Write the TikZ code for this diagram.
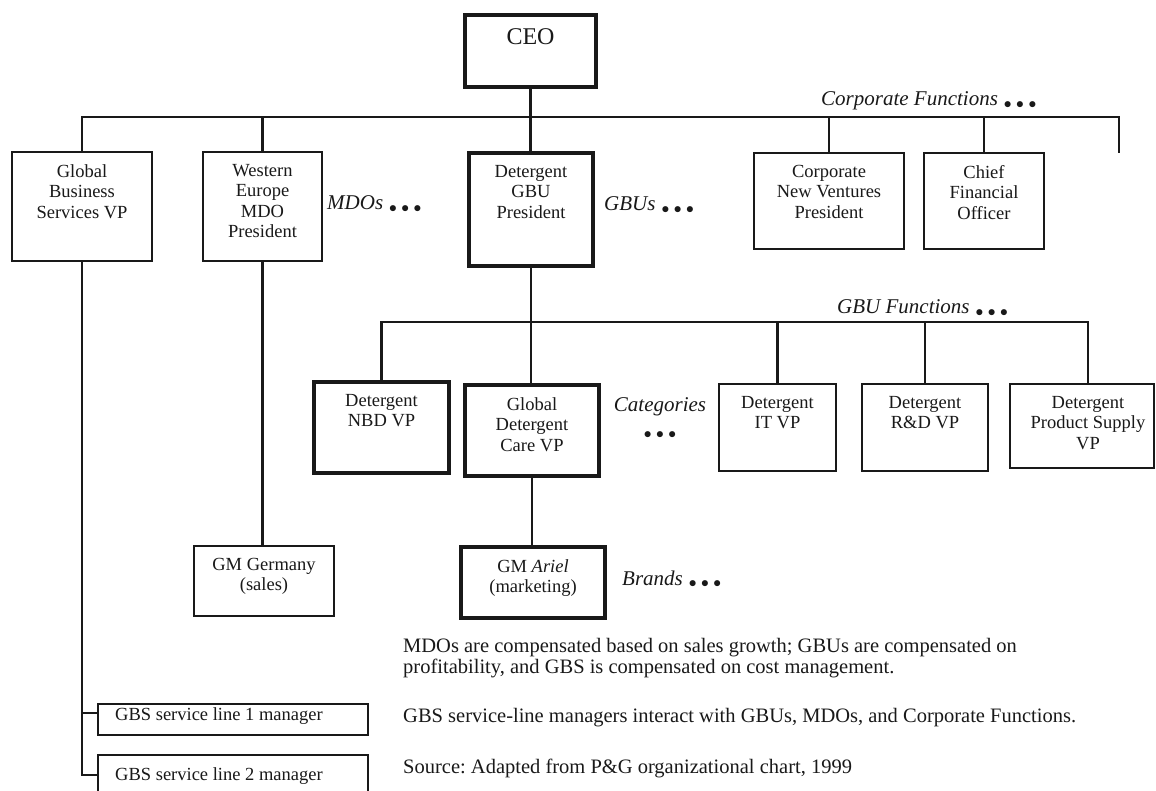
\documentclass[tikz,border=0pt]{standalone}
\usepackage{fontspec}
\setmainfont{Liberation Serif}
\usetikzlibrary{calc}
\frenchspacing

\definecolor{ink}{gray}{0.1}

\newcommand\boxfont{\fontsize{18.5}{20.5}\selectfont}
\newcommand\tagfont{\fontsize{21}{22}\selectfont\itshape}
\newcommand\ceofont{\fontsize{24}{26}\selectfont}
\newcommand\notefont{\fontsize{20.5}{21}\selectfont}
% three round dots that follow the open-ended group labels
\newcommand\dotrow{\raisebox{-2.5pt}{\scalebox{0.75}{$\mathord{\bullet}\kern6pt\mathord{\bullet}\kern6pt\mathord{\bullet}$}}}
\newcommand\more{\hspace{6pt}\dotrow}

\tikzset{
  org/.style={draw=ink, line width=2pt, fill=white, inner sep=0pt, anchor=north west},
  orgthick/.style={org, line width=4pt},
  boxtext/.style={anchor=north, align=center, inner sep=0pt, font=\boxfont, text=ink},
  wire/.style={draw=ink, line width=2.1pt},
  tag/.style={anchor=base west, inner sep=0pt, font=\tagfont, text=ink},
  note/.style={anchor=base west, inner sep=0pt, font=\notefont, text=ink},
}

% #1 name, #2 style, #3/#4 top-left corner, #5/#6 bottom-right corner, #7 text, #8 text drop from the top edge
\newcommand\orgbox[8]{%
  \node[#2, minimum width={(#5-#3)*1pt}, minimum height={(#6-#4)*1pt}] (#1) at (#3,#4) {};
  \node[boxtext] (#1-t) at ([yshift=-#8pt]#1.north) {#7};
}

\begin{document}
\begin{tikzpicture}[x=1pt, y=-1pt]
  \useasboundingbox (0,0) rectangle (1156,791);
  \clip (0,0) rectangle (1156,791);
  \fill[white] (0,0) rectangle (1156,791);

  % bus lines
  \coordinate (bus) at (0,117);
  \coordinate (stub) at (1119,117);
  \coordinate (stubend) at (1119,153);
  \coordinate (gbus) at (0,322);
  \coordinate (psdrop) at (1088,322);

  % top level
  \orgbox{ceo}{orgthick}{463}{13}{594}{85}{\ceofont CEO}{15}
  \orgbox{gbs}{org}{11}{151}{151}{260}{Global\\Business\\Services VP}{13}
  \orgbox{we}{org}{202}{151}{321}{260}{Western\\Europe\\MDO\\President}{13}
  \orgbox{gbu}{orgthick}{467}{151}{591}{264}{Detergent\\GBU\\President}{14}
  \orgbox{cnv}{org}{753}{152}{903}{248}{Corporate\\New Ventures\\President}{13}
  \orgbox{cfo}{org}{923}{152}{1043}{248}{Chief\\Financial\\Officer}{13}

  % GBU level
  \orgbox{nbd}{orgthick}{312}{380}{447}{471}{Detergent\\NBD VP}{14}
  \orgbox{gdc}{orgthick}{463}{383}{597}{474}{Global\\Detergent\\Care VP}{14}
  \orgbox{it}{org}{718}{383}{835}{470}{Detergent\\IT VP}{13}
  \orgbox{rd}{org}{861}{383}{987}{470}{Detergent\\R\&D VP}{13}
  \node[org, minimum width=144pt, minimum height=84pt] (ps) at (1009,383) {};
  \node[boxtext] (ps-t) at ([yshift=-13pt]ps.north -| psdrop) {Detergent\\Product Supply\\VP};

  % country and brand level
  \orgbox{gmg}{org}{193}{545}{333}{615}{GM Germany\\(sales)}{13}
  \orgbox{gma}{orgthick}{459}{545}{603}{616}{GM \textit{Ariel}\\(marketing)}{14}

  % GBS service lines
  \node[org, minimum width=270pt, minimum height=31pt] (sl1) at (97,703) {};
  \node[anchor=base west, inner sep=0pt, font=\boxfont, text=ink] (sl1-t) at ($(sl1.north west)+(18,17)$) {GBS service line 1 manager};
  \node[org, minimum width=270pt, minimum height=60pt] (sl2) at (97,754) {};
  \node[anchor=base west, inner sep=0pt, font=\boxfont, text=ink] (sl2-t) at ($(sl2.north west)+(18,26)$) {GBS service line 2 manager};

  % connectors
  \draw[wire] (ceo.south) -- (ceo.south |- gbu.north);
  \draw[wire] (gbs.north) |- (stub) -- (stubend);
  \draw[wire] (we.north) -- (we.north |- bus);
  \draw[wire] (cnv.north) -- (cnv.north |- bus);
  \draw[wire] (cfo.north) -- (cfo.north |- bus);

  \draw[wire] (gbu.south) -- (gbu.south |- gdc.north);
  \draw[wire] (nbd.north) |- (psdrop) -- (psdrop |- ps.north);
  \draw[wire] (it.north) -- (it.north |- gbus);
  \draw[wire] (rd.north) -- (rd.north |- gbus);

  \draw[wire] (gdc.south) -- (gdc.south |- gma.north);
  \draw[wire] (we.south) -- (we.south |- gmg.north);

  \coordinate (t1) at ($(sl1.north west)+(0,10)$);
  \coordinate (t2) at ($(sl2.north west)+(0,21)$);
  \draw[wire] (gbs.south) |- (t2);
  \draw[wire] (t1 -| gbs.south) -- (t1);

  % group labels
  \node[tag] (corpf) at (821,106) {Corporate Functions\more};
  \node[tag] (mdos) at (327,210) {MDOs\more};
  \node[tag] (gbusl) at (604,211) {GBUs\more};
  \node[tag] (gbuf) at (837,314) {GBU Functions\more};
  \node[tag, anchor=base, align=center] (cat) at (660,436) {Categories\\[3pt]\dotrow};
  \node[tag] (brands) at (622,585) {Brands\more};

  % notes
  \node[note] (n1a) at (403,652) {MDOs are compensated based on sales growth; GBUs are compensated on};
  \node[note] (n1b) at (403,673) {profitability, and GBS is compensated on cost management.};
  \node[note] (n2) at (403,722) {GBS service-line managers interact with GBUs, MDOs, and Corporate Functions.};
  \node[note] (n3) at (403,773) {Source: Adapted from P\&G organizational chart, 1999};
\end{tikzpicture}
\end{document}
